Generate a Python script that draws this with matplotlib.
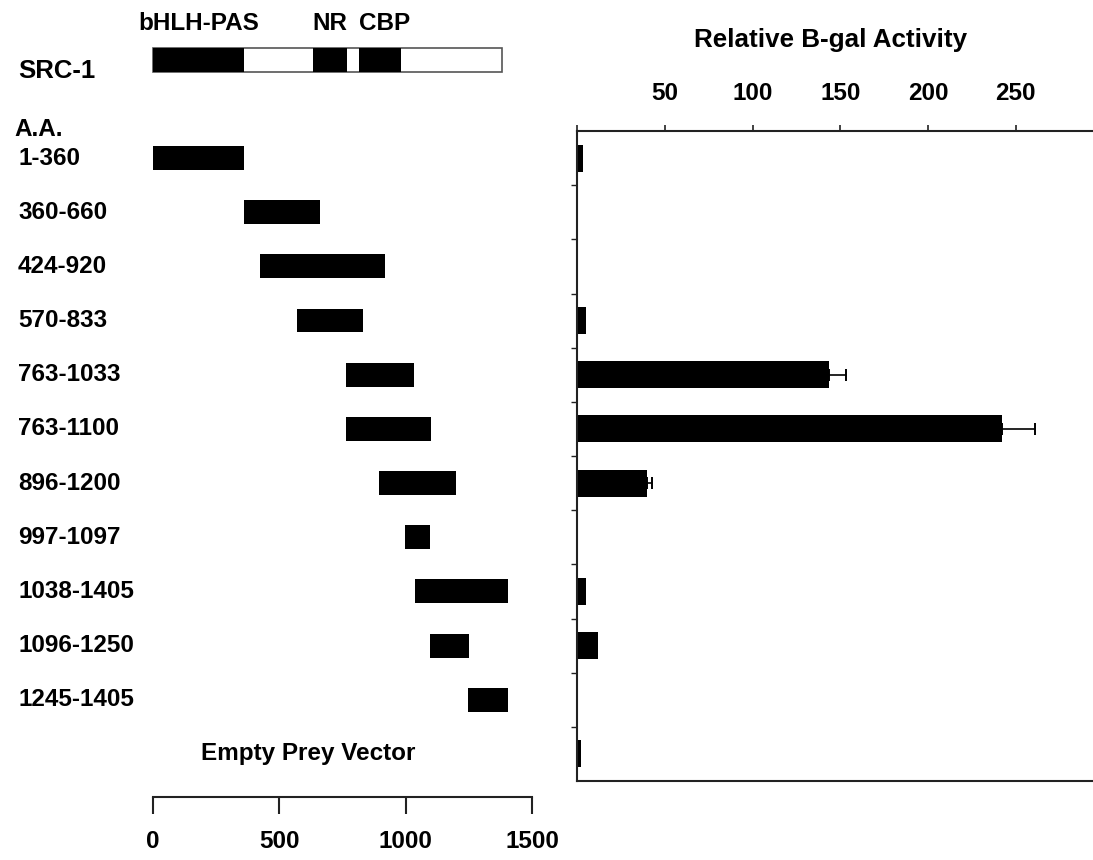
import matplotlib.pyplot as plt
import matplotlib.transforms as mtransforms
import numpy as np

plt.rcParams['font.family'] = ['Liberation Sans', 'DejaVu Sans']
plt.rcParams['font.weight'] = 'bold'
plt.rcParams['font.size'] = 17.5

# SRC-1 domain map (amino acids)
src1_length = 1380
domain_names = ['bHLH-PAS', 'NR', 'CBP']
domain_start = [0, 633, 815]
domain_end = [360, 768, 980]

# prey fragments
fragments = ['1-360', '360-660', '424-920', '570-833', '763-1033', '763-1100',
             '896-1200', '997-1097', '1038-1405', '1096-1250', '1245-1405']
frag_start = [1, 360, 424, 570, 763, 763, 896, 997, 1038, 1096, 1245]
frag_end = [360, 660, 920, 833, 1033, 1100, 1200, 1097, 1405, 1250, 1405]

# relative B-gal activity (last one = empty prey vector)
activity = [3.2, 0.8, 0.8, 5, 143.5, 242, 40, 0.6, 5.4, 12, 0.6, 2.5]
activity_err = [0, 0, 0, 0, 10, 19, 3, 0, 0, 0, 0, 0]

W, H = 1093, 860
fig = plt.figure(figsize=(W / 100, H / 100), dpi=100)
line_col = '#222222'

# ---- right panel: activity bars ----
axr = fig.add_axes([577 / W, 1 - 781 / H, (W - 577) / W, (781 - 131) / H])
n = len(activity)
yr = np.arange(n) + 0.5
axr.barh(yr, activity, height=0.5, color='black')
err = np.array(activity_err)
m = err > 0
axr.errorbar(np.array(activity)[m], yr[m], xerr=[np.zeros(m.sum()), err[m]],
             fmt='none', ecolor='black', elinewidth=1.2, capsize=4, capthick=1.4)
axr.set_xlim(0, 294)
axr.set_ylim(n, 0)
axr.xaxis.tick_top()
axr.set_xticks([0, 50, 100, 150, 200, 250])
axr.set_xticklabels(['', '50', '100', '150', '200', '250'])
axr.tick_params(axis='x', direction='out', length=4, width=1.2, pad=14.5, colors=line_col,
                labelcolor='black')
axr.set_yticks(np.arange(1, n))
axr.set_yticklabels([])
axr.tick_params(axis='y', direction='out', length=4, width=1, colors=line_col)
axr.spines['right'].set_visible(False)
for s in ['top', 'bottom', 'left']:
    axr.spines[s].set_color(line_col)
    axr.spines[s].set_linewidth(1.5)
fig.text(831 / W, 1 - 40 / H, 'Relative B-gal Activity', ha='center', va='center',
         fontsize=18.7)

# ---- left panel: fragment map ----
axl = fig.add_axes([153 / W, 1 - 797 / H, 379 / W, (797 - 6) / H])
axl.set_xlim(0, 1500)
axl.set_ylim(12.295, -2.306)
yl = np.arange(len(fragments)) + 0.5
axl.barh(yl, np.array(frag_end) - np.array(frag_start), left=frag_start,
         height=0.44, color='black')

# SRC-1 schematic
y_src = -1.31
axl.barh(y_src, src1_length, left=0, height=0.43, facecolor='white',
         edgecolor='#555555', linewidth=1.2, clip_on=False)
for name, s, e in zip(domain_names, domain_start, domain_end):
    axl.barh(y_src, e - s, left=s, height=0.43, color='black', clip_on=False)
    axl.text((s + e) / 2 + (20 if name == 'CBP' else 0), -1.99, name,
             ha='center', va='center')

for s in ['left', 'top', 'right']:
    axl.spines[s].set_visible(False)
axl.spines['bottom'].set_bounds(0, 1500)
axl.spines['bottom'].set_color(line_col)
axl.spines['bottom'].set_linewidth(1.5)
axl.set_yticks([])
axl.set_xticks([0, 500, 1000, 1500])
axl.tick_params(axis='x', direction='out', length=12, width=1.5, pad=12, colors=line_col,
                labelcolor='black')

# row labels on the far left
tr = mtransforms.blended_transform_factory(fig.transFigure, axl.transData)
axl.text(18 / W, y_src + 0.2, 'SRC-1', transform=tr, ha='left', va='center', fontsize=18.5)
axl.text(14 / W, -0.03, 'A.A.', transform=tr, ha='left', va='center')
for y, lab in zip(yl, fragments):
    axl.text(18 / W, y, lab, transform=tr, ha='left', va='center')
axl.text(615, n - 0.5, 'Empty Prey Vector', ha='center', va='center')

fig.savefig('out.png', dpi=100)
